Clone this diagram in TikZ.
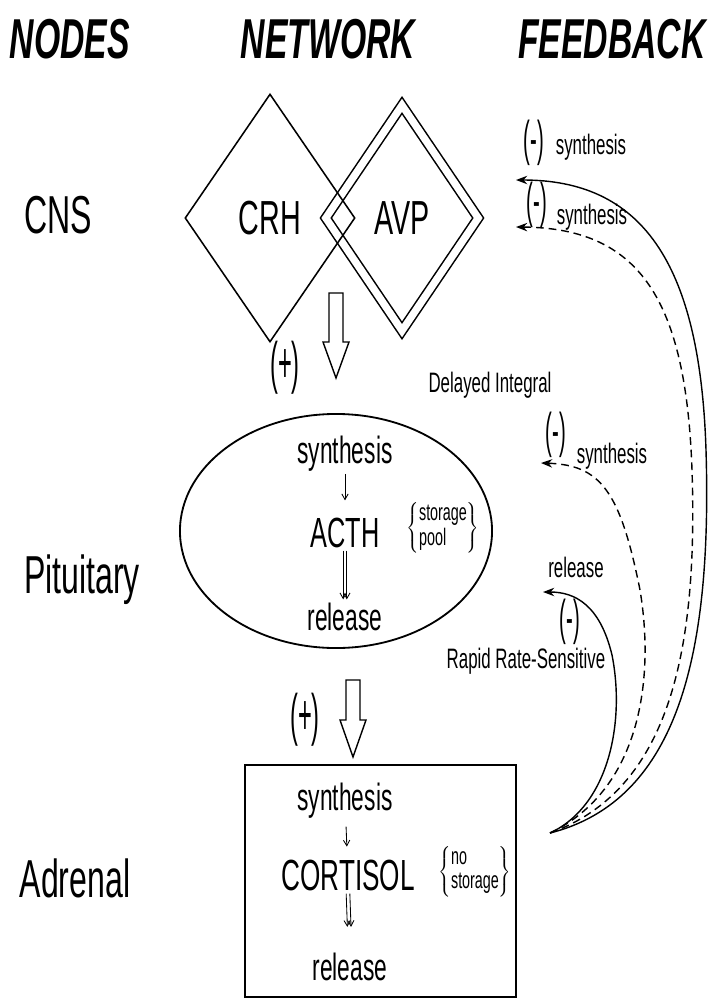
\documentclass[tikz,border=0pt]{standalone}
\usepackage{fontspec}
\setmainfont{Liberation Sans}[FakeStretch=0.6]
\usepackage{tikz}
\usetikzlibrary{arrows.meta,positioning,shapes.geometric}

\tikzset{
  colhead/.style={font=\fontsize{40}{44}\selectfont\bfseries\itshape,anchor=base},
  rowlab/.style={font=\fontsize{38}{42}\selectfont,anchor=base},
  hormone/.style={draw,diamond,line width=1.1pt,inner sep=0pt,font=\fontsize{34}{38}\selectfont},
  proc/.style={font=\fontsize{27}{30}\selectfont,anchor=base,inner sep=2pt},
  prod/.style={font=\fontsize{30}{33}\selectfont,anchor=base,inner sep=2pt},
  braced/.style={font=\fontsize{17}{17}\selectfont,inner sep=0pt},
  fblab/.style={font=\fontsize{20}{22}\selectfont,anchor=base},
  minus/.style={font=\fontsize{24}{26}\selectfont,inner sep=0pt},
  plus/.style={font=\fontsize{28}{30}\selectfont,inner sep=0pt},
  thinarrow/.style={line width=0.6pt,-{Straight Barb[length=4pt,width=4.5pt]}},
  fb/.style={line width=1pt,-{Stealth[length=8pt,width=6pt]}},
  fbdash/.style={fb,dash pattern=on 5.5pt off 3.5pt},
  blockarrow/.style={line width=1pt,line join=miter},
}

\begin{document}
\begin{tikzpicture}[x=0.025cm,y=-0.025cm]
\useasboundingbox (0,0) rectangle (715,1001);
% column heads and row labels
\foreach \name/\lab/\x in {hnodes/NODES/70, hnet/NETWORK/328, hfb/FEEDBACK/612}
  \node[colhead] (\name) at (\x,58) {\lab};
\foreach \name/\lab/\x/\y in {cns/CNS/58/233, pit/Pituitary/82/593, adr/Adrenal/75/897}
  \node[rowlab] (\name) at (\x,\y) {\lab};

% CNS: the two releasing factors
\node[hormone,minimum width=3.825cm,minimum height=5.65cm,double,double distance=5.2pt] (avp) at (402,218) {AVP};
\node[hormone,minimum width=4.25cm,minimum height=6.2cm] (crh) at (270,218) {CRH};

% drive to pituitary
\draw[blockarrow] (329,293) -- (329,342) -- (323,342) -- (336,378) -- (349,342) -- (343,342) -- (343,293) -- cycle;
\node[plus] (drive1) at (285,368) {\scalebox{1}[1.45]{(+)}};

% pituitary
\node[draw,ellipse,line width=1.3pt,minimum width=7.8cm,minimum height=5.85cm] (pitell) at (336,531) {};
\node[proc] (synP) at (345,463) {synthesis};
\node[prod] (acth) at (345,547) {ACTH};
\node[proc] (relP) at (345,630) {release};
\node[braced] (pool) at (443,528) {$\left\{\begin{tabular}{@{}l@{}}storage\\pool\end{tabular}\right\}$};
\draw[thinarrow,shorten >=10pt] (synP) -- (acth);
\draw[thinarrow] ([xshift=-1.3pt]acth.south) -- ([xshift=-1.3pt]relP.north);
\draw[thinarrow] ([xshift=1.3pt]acth.south) -- ([xshift=1.3pt]relP.north);

% drive to adrenal
\draw[blockarrow] (346,680) -- (346,720) -- (340,720) -- (353,757) -- (366,720) -- (360,720) -- (360,680) -- cycle;
\node[plus] (drive2) at (305,720) {\scalebox{1}[1.45]{(+)}};

% adrenal
\node[draw,line width=1.1pt,minimum width=6.775cm,minimum height=5.8cm] (adrbox) at (380.5,881) {};
\node[proc] (synC) at (345,810) {synthesis};
\node[prod,font=\fontsize{31}{34}\selectfont] (cort) at (348,890) {CORTISOL};
\node[proc] (relC) at (350,980) {release};
\node[braced] (nostore) at (475,872) {$\left\{\begin{tabular}{@{}l@{}}no\\storage\end{tabular}\right\}$};
\draw[thinarrow,shorten <=4pt,shorten >=7pt] (synC) -- (cort);
\draw[thinarrow,shorten >=16pt] ([xshift=-1.3pt]cort.south) -- ([xshift=-1.3pt]relC.north);
\draw[thinarrow,shorten >=16pt] ([xshift=1.3pt]cort.south) -- ([xshift=1.3pt]relC.north);

% feedback loops from cortisol
\coordinate (fbstart) at (550,833);
\coordinate (cnsA) at (516,180);
\coordinate (cnsB) at (516,227);
\coordinate (pitA) at (541,463);
\coordinate (pitR) at (543,592);
\draw[fb] (fbstart) .. controls (680,800) and (712,650) .. (706,450) .. controls (700,260) and (640,180) .. (cnsA);
\draw[fbdash] (fbstart) .. controls (670,790) and (698,650) .. (692,470) .. controls (686,300) and (640,228) .. (cnsB);
\draw[fbdash] (fbstart) .. controls (640,790) and (655,680) .. (640,590) .. controls (620,490) and (600,465) .. (pitA);
\draw[fb] (fbstart) .. controls (610,805) and (625,720) .. (612,655) .. controls (600,605) and (575,592) .. (pitR);

% feedback labels
\node[minus] (m1) at (534,143) {\scalebox{1}[1.45]{(-)}};
\node[fblab] (s1) at (591,154) {synthesis};
\node[minus] (m2) at (537,205) {\scalebox{1}[1.45]{(-)}};
\node[fblab] (s2) at (592,224) {synthesis};
\node[fblab] (delay) at (490,392) {Delayed Integral};
\node[minus] (m3) at (556,435) {\scalebox{1}[1.45]{(-)}};
\node[fblab] (s3) at (612,463) {synthesis};
\node[fblab] (r4) at (576,577) {release};
\node[minus] (m4) at (570,622) {\scalebox{1}[1.45]{(-)}};
\node[fblab] (rapid) at (526,668) {Rapid Rate-Sensitive};
\end{tikzpicture}
\end{document}
